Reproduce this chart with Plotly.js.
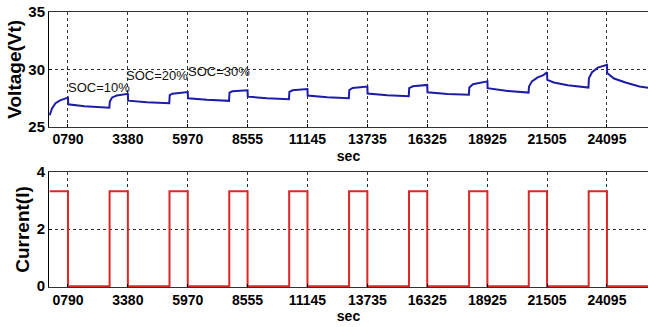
<!DOCTYPE html>
<html>
<head>
<meta charset="utf-8">
<script src="https://cdn.plot.ly/plotly-3.0.1.min.js"></script>
<style>
  html, body { margin: 0; padding: 0; background: #ffffff; }
  #chart { width: 648px; height: 327px; }
</style>
</head>
<body>
<div id="chart"></div>
<script>
// ---- Data ----
const xTickVals = [790, 3380, 5970, 8555, 11145, 13735, 16325, 18925, 21505, 24095];
const xTickText = ['0790', '3380', '5970', '8555', '11145', '13735', '16325', '18925', '21505', '24095'];

// Terminal voltage (V) vs time (s)
const voltTime = [
  0, 100, 250, 450, 790,
  800, 1500, 2580,
  2600, 2700, 2900, 3380,
  3390, 4200, 5170,
  5190, 5300, 5600, 5970,
  5980, 6800, 7755,
  7775, 7900, 8200, 8555,
  8565, 9400, 10345,
  10365, 10500, 10800, 11145,
  11155, 12000, 12935,
  12955, 13100, 13400, 13735,
  13745, 14600, 15525,
  15545, 15700, 16000, 16325,
  16335, 17200, 18125,
  18145, 18300, 18600, 18925,
  18935, 19800, 20705,
  20725, 20850, 21100, 21350, 21505,
  21515, 21800, 22400, 23295,
  23315, 23450, 23700, 23950, 24095,
  24105, 24400, 24900, 25500, 25900
];
const voltValue = [
  26.0, 26.6, 27.05, 27.3, 27.53,
  26.95, 26.78, 26.66,
  27.2, 27.55, 27.72, 27.86,
  27.27, 27.12, 27.04,
  27.75, 27.88, 27.95, 28.02,
  27.48, 27.34, 27.25,
  27.97, 28.08, 28.13, 28.17,
  27.62, 27.48, 27.39,
  28.03, 28.17, 28.23, 28.28,
  27.71, 27.56, 27.48,
  28.2, 28.38, 28.45, 28.5,
  27.89, 27.73, 27.65,
  28.36, 28.52, 28.58, 28.64,
  28.0, 27.86, 27.78,
  28.41, 28.7, 28.85, 28.95,
  28.36, 28.12, 27.97,
  28.5, 28.95, 29.3, 29.5, 29.75,
  29.08, 28.85, 28.62, 28.41,
  29.23, 29.75, 30.15, 30.35, 30.4,
  29.67, 29.2, 28.85, 28.5, 28.38
];

// Charging current pulses (A)
const pulseStart = [0, 2590, 5180, 7765, 10355, 12945, 15535, 18135, 20715, 23305];
const pulseEnd   = [790, 3380, 5970, 8555, 11145, 13735, 16325, 18925, 21505, 24095];
const pulseLevel = 3.33;
const restLevel = 0;
const endTime = 25900;

const socLabels = ['SOC=10%', 'SOC=20%', 'SOC=30%'];

// ---- Build traces ----
const curX = [], curY = [];
for (let i = 0; i < pulseStart.length; i++) {
  curX.push(pulseStart[i], pulseEnd[i]);
  curY.push(pulseLevel, restLevel);
}
curX.push(endTime); curY.push(restLevel);

const fontMain = '"Liberation Sans", Arial, sans-serif';

const traces = [
  {
    x: voltTime, y: voltValue, type: 'scatter', mode: 'lines',
    line: { color: '#1c1ca6', width: 2 }, xaxis: 'x', yaxis: 'y',
    hoverinfo: 'skip', showlegend: false
  },
  {
    x: curX, y: curY, type: 'scatter', mode: 'lines',
    line: { color: '#dd2626', width: 2, shape: 'hv' }, xaxis: 'x2', yaxis: 'y2',
    hoverinfo: 'skip', showlegend: false
  }
];

const xRange = [-30, 25870];
const xTickFont = { family: fontMain, size: 14, color: '#000000', weight: 'bold' };
const yTickFont = { family: fontMain, size: 15, color: '#000000', weight: 'bold' };

function xAxisDef(anchor) {
  return {
    anchor: anchor, domain: [0, 1], range: xRange,
    tickmode: 'array', tickvals: xTickVals, ticktext: xTickText,
    ticks: 'inside', ticklen: 3, tickcolor: '#000',
    showline: true, linecolor: '#333', linewidth: 1, mirror: true,
    showgrid: true, gridcolor: '#333', griddash: 'dot', gridwidth: 1,
    zeroline: false, tickfont: xTickFont,
    title: { text: 'sec', font: { family: fontMain, size: 14, color: '#000', weight: 'bold' }, standoff: 4 }
  };
}

const layout = {
  width: 648, height: 327,
  margin: { l: 49, r: 0, t: 12, b: 40 },
  paper_bgcolor: '#ffffff', plot_bgcolor: '#ffffff',
  showlegend: false,
  xaxis: xAxisDef('y'),
  xaxis2: xAxisDef('y2'),
  yaxis: {
    anchor: 'x', domain: [0.583, 1], range: [25, 35],
    tickvals: [25, 30, 35], ticks: 'inside', ticklen: 3, tickcolor: '#000',
    showline: true, linecolor: '#000', linewidth: 1,
    showgrid: true, gridcolor: '#333', griddash: 'dot', gridwidth: 1,
    zeroline: false, tickfont: yTickFont,
    title: { text: 'Voltage(Vt)', font: { family: fontMain, size: 19, color: '#000', weight: 'bold' }, standoff: 1 }
  },
  yaxis2: {
    anchor: 'x2', domain: [0, 0.418], range: [-0.03, 4],
    tickvals: [0, 2, 4], ticks: 'inside', ticklen: 3, tickcolor: '#000',
    showline: true, linecolor: '#000', linewidth: 1,
    showgrid: true, gridcolor: '#333', griddash: 'dot', gridwidth: 1,
    zeroline: false, tickfont: yTickFont,
    title: { text: 'Current(I)', font: { family: fontMain, size: 19, color: '#000', weight: 'bold' }, standoff: 1 }
  },
  annotations: [
    { x: 705, y: 28.45, xref: 'x', yref: 'y', text: socLabels[0], showarrow: false, xanchor: 'left', yanchor: 'middle',
      font: { family: fontMain, size: 13, color: '#111' } },
    { x: 3230, y: 29.42, xref: 'x', yref: 'y', text: socLabels[1], showarrow: false, xanchor: 'left', yanchor: 'middle',
      font: { family: fontMain, size: 13, color: '#111' } },
    { x: 5894, y: 29.8, xref: 'x', yref: 'y', text: socLabels[2], showarrow: false, xanchor: 'left', yanchor: 'middle',
      font: { family: fontMain, size: 13, color: '#111' } }
  ]
};

Plotly.newPlot('chart', traces, layout, { displayModeBar: false, staticPlot: true });
</script>
</body>
</html>
